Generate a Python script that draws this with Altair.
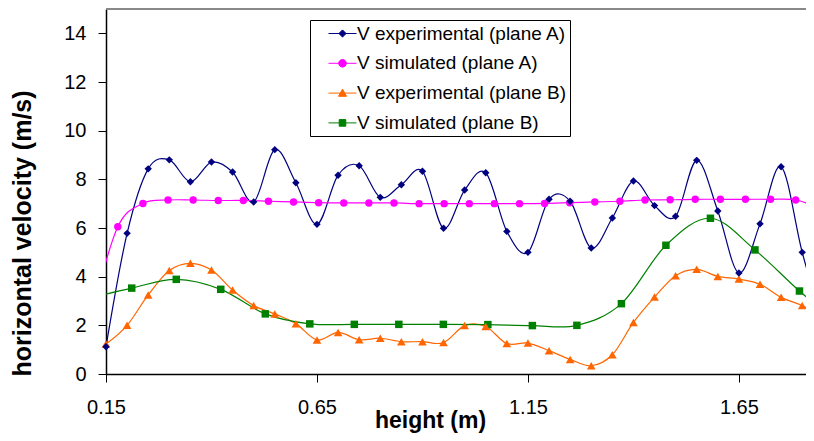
import altair as alt
import pandas as pd

# ---- data ----
series_names = ["V experimental (plane A)", "V simulated (plane A)",
                "V experimental (plane B)", "V simulated (plane B)"]
series_colors = ["#000080", "#FF00FF", "#FF6600", "#008000"]

exp_x = [0.15, 0.20, 0.25, 0.30, 0.35, 0.40, 0.45, 0.50, 0.55, 0.60, 0.65, 0.70,
         0.75, 0.80, 0.85, 0.90, 0.95, 1.00, 1.05, 1.10, 1.15, 1.20, 1.25, 1.30,
         1.35, 1.40, 1.45, 1.50, 1.55, 1.60, 1.65, 1.70, 1.75, 1.80, 1.85]
exp_a = [1.12, 5.78, 8.43, 8.80, 7.90, 8.71, 8.30, 7.07, 9.22, 7.86, 6.15, 8.17,
         8.56, 7.26, 7.78, 8.33, 5.99, 7.56, 8.27, 5.86, 5.00, 7.18, 7.10, 5.18,
         6.41, 7.93, 6.92, 6.48, 8.78, 6.70, 4.15, 6.17, 8.52, 5.00, 2.00]
exp_b = [1.23, 2.00, 3.25, 4.25, 4.55, 4.27, 3.45, 2.81, 2.47, 2.07, 1.40, 1.71,
         1.41, 1.47, 1.33, 1.33, 1.29, 1.99, 1.95, 1.25, 1.27, 0.96, 0.60, 0.34,
         0.79, 2.12, 3.16, 4.04, 4.30, 4.01, 3.90, 3.69, 3.15, 2.81, 2.35]

sim_a_x = [0.1185, 0.178, 0.2375, 0.297, 0.3565, 0.416, 0.4755, 0.535, 0.5945,
           0.654, 0.7135, 0.773, 0.8325, 0.892, 0.9515, 1.011, 1.0705, 1.13,
           1.1895, 1.249, 1.3085, 1.368, 1.4275, 1.487, 1.5465, 1.606, 1.6655,
           1.725, 1.7845, 1.844]
sim_a = [2.6, 6.05, 7.01, 7.15, 7.15, 7.13, 7.13, 7.10, 7.07, 7.04, 7.03, 7.03,
         7.03, 7.00, 7.00, 7.00, 7.00, 7.00, 7.01, 7.04, 7.07, 7.10, 7.15, 7.16,
         7.18, 7.18, 7.18, 7.18, 7.15, 6.80]

sim_b_x = [0.1055, 0.211, 0.3165, 0.422, 0.5275, 0.633, 0.7385, 0.844, 0.9495,
           1.055, 1.1605, 1.266, 1.3715, 1.477, 1.5825, 1.688, 1.7935, 1.899]
sim_b = [3.10, 3.53, 3.89, 3.48, 2.47, 2.06, 2.04, 2.04, 2.04, 2.03, 1.99, 2.00,
         2.89, 5.29, 6.40, 5.10, 3.41, 1.90]

x_ticks = [0.15, 0.65, 1.15, 1.65]
y_ticks = [0, 2, 4, 6, 8, 10, 12, 14]
x_domain = [0.15, 1.809]
y_domain = [0, 15]

# ---- long table ----
rows = []
for xs, vs, name in [(exp_x, exp_a, series_names[0]), (sim_a_x, sim_a, series_names[1]),
                     (exp_x, exp_b, series_names[2]), (sim_b_x, sim_b, series_names[3])]:
    for xv, yv in zip(xs, vs):
        rows.append({"x": xv, "v": yv, "series": name})
df = pd.DataFrame(rows)

FONT = "Liberation Sans"

# legend symbols: short line with the series marker (unit = 10 px at symbolSize 400)
line_seg = "M-1.4,0L1.4,0"
legend_paths = [
    line_seg + "M0,-0.36L0.36,0L0,0.36L-0.36,0Z",
    line_seg + "M-0.38,0A0.38,0.38,0,1,0,0.38,0A0.38,0.38,0,1,0,-0.38,0Z",
    line_seg + "M0,-0.4L0.4,0.32L-0.4,0.32Z",
    line_seg + "M-0.33,-0.33L0.33,-0.33L0.33,0.33L-0.33,0.33Z",
]

color_scale = alt.Scale(domain=series_names, range=series_colors)
shape_scale = alt.Scale(domain=series_names, range=legend_paths)

x_enc = alt.X("x:Q", scale=alt.Scale(domain=x_domain, nice=False, zero=False),
              axis=alt.Axis(values=x_ticks, format=".2f", title="height (m)",
                            titleX=324, titleY=46, titleBaseline="middle",
                            titleFontSize=23, labelFlush=False, labelPadding=15))
y_enc = alt.Y("v:Q", scale=alt.Scale(domain=y_domain, nice=False),
              axis=alt.Axis(values=y_ticks, title="horizontal velocity (m/s)",
                            titleX=-84, titleY=224, titleBaseline="middle",
                            titleFontSize=25, titleAngle=-90, labelFlush=False,
                            labelPadding=12))

legend_props = dict(
    title=None, orient="none", legendX=204, legendY=11,
    symbolSize=400, symbolStrokeWidth=1, symbolOffset=19,
    labelFont=FONT, labelFontSize=19, labelLimit=400,
    labelExpr="datum.label + '  '",
    labelColor="black", padding=3, strokeColor="black", fillColor="white",
    rowPadding=8.8, labelOffset=4, symbolOpacity=1,
)

def leg():
    return alt.Legend(**legend_props)

legend_layer = alt.Chart(df).transform_filter("false").mark_point(
    filled=True, size=400, strokeWidth=1, opacity=1).encode(
    x=x_enc, y=y_enc,
    color=alt.Color("series:N", scale=color_scale, legend=leg()),
    stroke=alt.Stroke("series:N", scale=color_scale, legend=leg()),
    shape=alt.Shape("series:N", scale=shape_scale, legend=leg()),
)

lines = alt.Chart(df).mark_line(interpolate="cardinal", strokeWidth=1.2, clip=True).encode(
    x="x:Q", y="v:Q",
    color=alt.Color("series:N", scale=color_scale, legend=leg()),
    detail="series:N",
)

marker_filter = (alt.datum.x >= x_domain[0]) & (alt.datum.x <= x_domain[1])

def markers(name, shape, size):
    return alt.Chart(df).transform_filter(alt.datum.series == name).transform_filter(
        marker_filter).mark_point(filled=True, shape=shape, size=size, opacity=1,
                                  strokeWidth=0).encode(
        x="x:Q", y="v:Q",
        color=alt.Color("series:N", scale=color_scale, legend=leg()))

border = alt.Chart(df).mark_rule(color="#888888", strokeWidth=1).encode(
    y=alt.datum(y_domain[1]))

chart = alt.layer(
    legend_layer,
    border,
    lines,
    markers(series_names[3], "square", 56),
    markers(series_names[2], "triangle-up", 75),
    markers(series_names[1], "circle", 55),
    markers(series_names[0], "diamond", 55),
).properties(
    width=700, height=365,
    autosize=alt.AutoSizeParams(type="none"),
    padding={"left": 98, "top": 1, "right": 0, "bottom": 59},
).configure_view(
    stroke=None,
).configure_axis(
    grid=False, domainColor="black", domainWidth=1.5, tickColor="black",
    tickSize=8, tickWidth=1, labelFont=FONT, labelFontSize=20, labelColor="black",
    titleFont=FONT, titleFontWeight="bold", titleColor="black",
)

chart.save("out.html", embed_options={"renderer": "svg", "actions": False})
